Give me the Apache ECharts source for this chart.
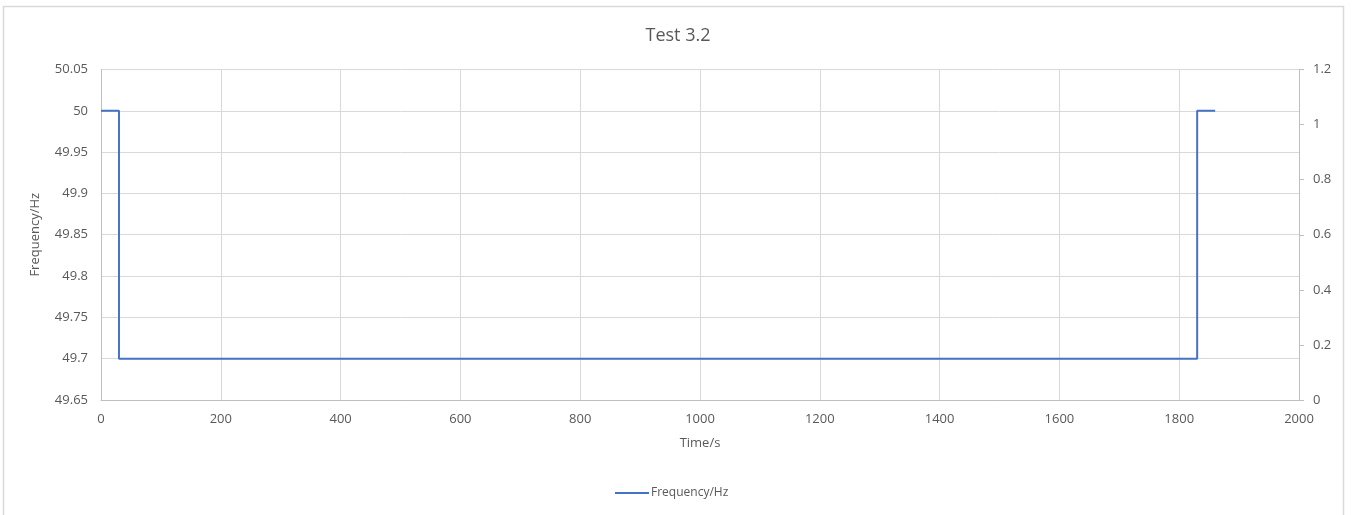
<!DOCTYPE html>
<html>
<head>
<meta charset="utf-8">
<title>Test 3.2</title>
<script src="https://cdn.jsdelivr.net/npm/echarts@6/dist/echarts.min.js"></script>
<style>
    html, body { margin: 0; padding: 0; background: #fff; }
    #main { width: 1355px; height: 515px; }
</style>
</head>
<body>
<div id="main"></div>
<script>
// data
const timeS = [0, 30, 30, 1830, 1830, 1860];
const frequencyHz = [50, 50, 49.7, 49.7, 50, 50];
const seriesName = 'Frequency/Hz';

const textColor = '#595959';
const gridColor = '#d9d9d9';
const axisColor = '#bfbfbf';
const fontFamily = 'Open Sans, Noto Sans, sans-serif';

const myChart = echarts.init(document.getElementById('main'), null, { renderer: 'canvas' });

const option = {
    backgroundColor: '#fff',
    animation: false,
    textStyle: { fontFamily: fontFamily },
    graphic: [{
        type: 'rect',
        shape: { x: 3.5, y: 6.5, width: 1340, height: 520 },
        style: { fill: 'none', stroke: '#d9d9d9', lineWidth: 1.5 },
        silent: true
    }],
    title: {
        text: 'Test 3.2',
        left: 673,
        textAlign: 'center',
        top: 22,
        textStyle: { color: textColor, fontSize: 18, fontWeight: 'normal', fontFamily: fontFamily }
    },
    legend: {
        bottom: 11,
        left: 610,
        itemWidth: 34,
        itemHeight: 2,
        itemGap: 4,
        icon: 'rect',
        data: [seriesName],
        textStyle: { color: textColor, fontSize: 12, fontFamily: fontFamily, padding: [0, 0, 0, -3] }
    },
    grid: { left: 101, right: 56, top: 69.5, bottom: 115 },
    xAxis: {
        type: 'value',
        min: 0,
        max: 2000,
        interval: 200,
        name: 'Time/s',
        nameLocation: 'middle',
        nameGap: 37,
        nameTextStyle: { color: textColor, fontSize: 13 },
        axisLine: { lineStyle: { color: axisColor, width: 1 } },
        axisTick: { show: false },
        axisLabel: { color: textColor, fontSize: 13, margin: 13, formatter: v => String(v) },
        splitLine: { show: true, lineStyle: { color: gridColor, width: 1 } }
    },
    yAxis: [{
        type: 'value',
        min: 49.65,
        max: 50.05,
        interval: 0.05,
        name: 'Frequency/Hz',
        nameLocation: 'middle',
        nameGap: 59,
        nameTextStyle: { color: textColor, fontSize: 13 },
        axisLine: { show: true, lineStyle: { color: axisColor, width: 1 } },
        axisTick: { show: false },
        axisLabel: {
            color: textColor, fontSize: 13, margin: 13,
            formatter: v => String(parseFloat(v.toFixed(2)))
        },
        splitLine: { show: true, lineStyle: { color: gridColor, width: 1 } }
    }, {
        type: 'value',
        position: 'right',
        min: 0,
        max: 1.2,
        interval: 0.2,
        axisLine: { show: true, lineStyle: { color: axisColor, width: 1 } },
        axisTick: { show: true, length: 5, lineStyle: { color: axisColor } },
        axisLabel: {
            color: textColor, fontSize: 13, margin: 14,
            formatter: v => String(parseFloat(v.toFixed(1)))
        },
        splitLine: { show: false }
    }],
    series: [{
        name: seriesName,
        type: 'line',
        yAxisIndex: 0,
        showSymbol: false,
        symbol: 'none',
        lineStyle: { color: '#4472c4', width: 2 },
        itemStyle: { color: '#4472c4' },
        data: timeS.map((t, i) => [t, frequencyHz[i]])
    }]
};

myChart.setOption(option);
</script>
</body>
</html>
